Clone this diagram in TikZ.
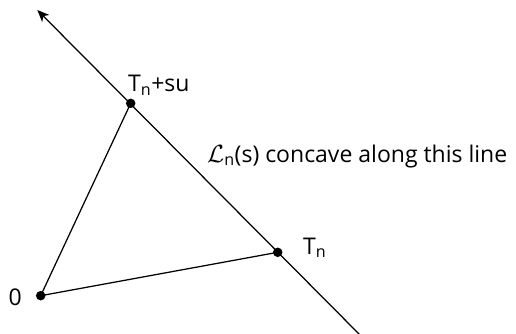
\documentclass[tikz,border=0pt]{standalone}
\usepackage{fontspec}
\setmainfont{Open Sans}
\usetikzlibrary{arrows.meta}
\tikzset{
  dotpt/.style={circle,fill=black,inner sep=0pt,minimum size=9.5pt},
  edge/.style={line width=1.25pt,black},
  lbl/.style={inner sep=0pt,anchor=base west,font=\fontsize{23}{27}\selectfont}
}
\begin{document}
\begin{tikzpicture}[x=1pt,y=-1pt]
\useasboundingbox (0,0) rectangle (516,334);
\coordinate (top) at (37.3,10);
\coordinate (bot) at (362,337);
\coordinate (O) at (40.7,295.7);
\coordinate (T) at (277.7,252.3);
\coordinate (Ts) at (130.7,103.3);
\draw[edge,-{Stealth[length=12pt,width=10pt,inset=3.5pt]}] (bot) -- (top);
\draw[edge] (O) -- (Ts);
\draw[edge] (O) -- (T);
\node[dotpt] (o) at (O) {};
\node[dotpt] (t) at (T) {};
\node[dotpt] (ts) at (Ts) {};
\node[lbl,anchor=base east] (lo) at (22,305) {0};
\node[lbl] (lt) at (303,254) {T\textsubscript{n}};
\node[lbl] (lts) at (128,92) {T\textsubscript{n}+su};
\node[lbl] (ll) at (207,162) {$\mathcal{L}$\textsubscript{n}(s) concave along this line};
\end{tikzpicture}
\end{document}
